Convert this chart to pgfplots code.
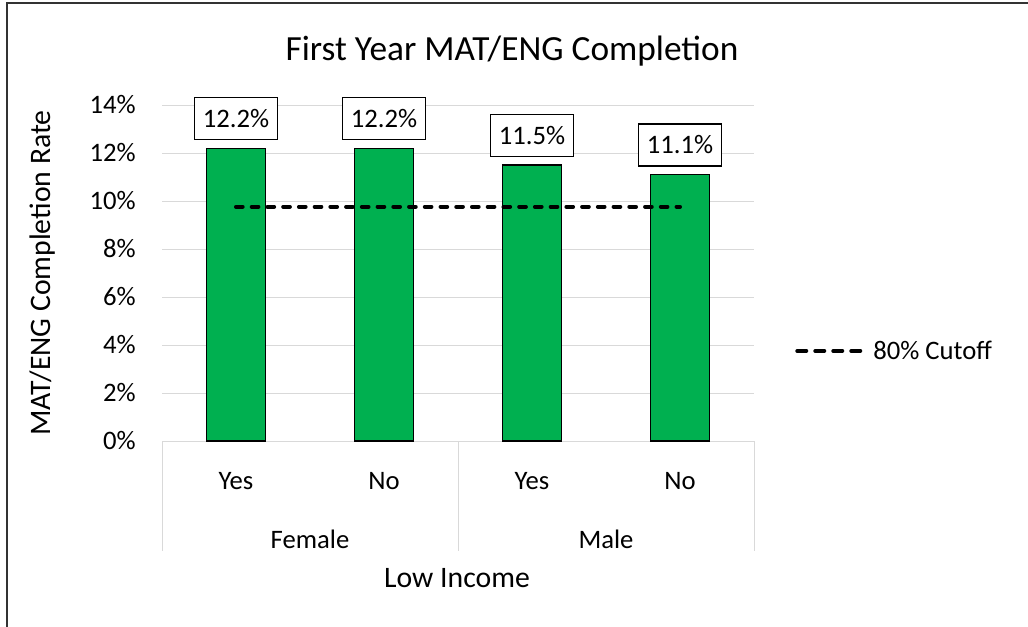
\documentclass[border=0pt]{standalone}
\usepackage{pgfplots}
\pgfplotsset{compat=1.18}
\usepackage{fontspec}
\setmainfont{Carlito}
\definecolor{barg}{RGB}{0,176,80}
\definecolor{gridg}{RGB}{217,217,217}
\newcommand{\tickfont}{\fontsize{20}{24}\selectfont}
\newcommand{\labfont}{\fontsize{22.3}{26}\selectfont}
\newcommand{\titfont}{\fontsize{26.5}{30}\selectfont}
\begin{document}
\begin{tikzpicture}
\useasboundingbox (0,0) rectangle (771pt,-470.25pt);
\draw[line width=1.5pt, black!80] (5.25pt,-470.25pt) -- (5.25pt,-2.6pt) -- (771pt,-2.6pt);
\begin{axis}[
  at={(121.5pt,-330.75pt)}, anchor=south west,
  scale only axis, width=444pt, height=252pt,
  xmin=-0.5, xmax=3.5, ymin=0, ymax=14,
  ytick={0,2,...,14},
  yticklabel={\pgfmathprintnumber{\tick}\%},
  xtick={0,1,2,3}, xticklabels={Yes,No,Yes,No},
  major tick length=0pt,
  ymajorgrids, grid style={gridg, line width=0.75pt},
  axis line style={draw=none},
  tick label style={font=\tickfont},
  /pgf/number format/assume math mode=true,
  yticklabel style={anchor=east, inner sep=0pt, xshift=-19.5pt},
  xticklabel style={anchor=north, inner sep=0pt, yshift=-23pt},
  clip=false,
  legend style={draw=none, fill=none, at={(1,0.268)}, anchor=west, xshift=30.75pt,
    inner sep=0pt, font=\tickfont, nodes={inner sep=0pt}},
  legend image code/.code={%
    \path[draw=none, fill=none] (0pt,-3pt) rectangle (58.5pt,3pt);
    \draw[#1, dash pattern=on 6.75pt off 6.75pt] (1.5pt,0pt) -- (48.75pt,0pt);},
]
\addplot[ybar, bar width=44pt, fill=barg, draw=black, line width=1pt,
  nodes near coords={\pgfmathprintnumber[fixed,fixed zerofill,precision=1]{\pgfplotspointmeta}\%},
  nodes near coords style={font=\tickfont, draw=black, fill=white, line width=1pt,
    anchor=south, yshift=6pt, inner xsep=6.25pt, inner ysep=0pt, minimum height=31.5pt},
  forget plot]
  coordinates {(0,12.2) (1,12.2) (2,11.5) (3,11.1)};
\addplot[black, line width=3pt, line cap=round, dash pattern=on 5pt off 6.8pt]
  coordinates {(0,9.76) (3,9.76)};
\addlegendentry{80\% Cutoff}
\draw[gridg, line width=0.75pt] (axis cs:-0.5,0) -- ([yshift=-82.5pt]axis cs:-0.5,0);
\draw[gridg, line width=0.75pt] (axis cs:1.5,0) -- ([yshift=-82.5pt]axis cs:1.5,0);
\draw[gridg, line width=0.75pt] (axis cs:3.5,0) -- ([yshift=-82.5pt]axis cs:3.5,0);
\node[anchor=base, font=\tickfont, yshift=-80.25pt] at (axis cs:0.5,0) {Female};
\node[anchor=base, font=\tickfont, yshift=-80.25pt] at (axis cs:2.5,0) {Male};
\end{axis}
\node[anchor=base, font=\labfont] at (342.75pt,-440.25pt) {Low Income};
\node[anchor=base, rotate=90, font=\labfont] at (37.5pt,-204.75pt) {MAT/ENG Completion Rate};
\node[anchor=base, font=\titfont] at (384pt,-45.75pt) {First Year MAT/ENG Completion};
\end{tikzpicture}
\end{document}
